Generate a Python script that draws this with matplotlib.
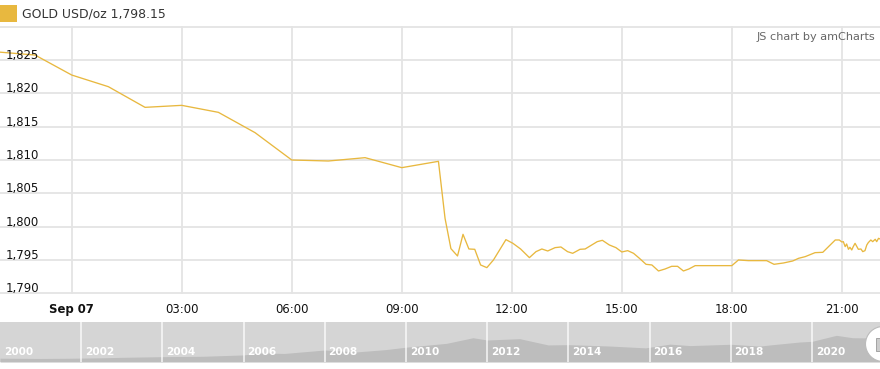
import matplotlib
matplotlib.use("Agg")
import matplotlib.pyplot as plt
from matplotlib.patches import Rectangle, Ellipse

# ---- data: hours relative to Sep 07 00:00, gold price USD/oz ----
hours = [-2.0, -1.0, 0.0, 1.0, 2.0, 3.0, 4.0, 5.0, 6.0, 7.0, 8.0, 9.0, 10.0,
         10.18, 10.34, 10.52, 10.67, 10.83, 10.99, 11.15, 11.32, 11.50, 11.84,
         12.03, 12.24, 12.48, 12.66, 12.82, 12.98, 13.18, 13.34, 13.52, 13.66,
         13.86, 14.00, 14.18, 14.33, 14.47, 14.66, 14.84, 15.00, 15.16, 15.32,
         15.48, 15.66, 15.82, 16.00, 16.18, 16.36, 16.52, 16.68, 16.83, 17.00,
         18.00, 18.18, 18.45, 18.95, 19.15, 19.41, 19.66, 19.82, 20.00, 20.27,
         20.48, 20.82, 20.93, 21.00, 21.04, 21.09, 21.13, 21.18, 21.22, 21.27,
         21.31, 21.36, 21.41, 21.45, 21.52, 21.57, 21.63, 21.68, 21.72, 21.79,
         21.84, 21.91, 21.95, 22.00, 22.04]
prices = [1826.2, 1825.75, 1822.75, 1821.0, 1817.9, 1818.2, 1817.15, 1814.1,
          1810.0, 1809.85, 1810.35, 1808.85, 1809.8,
          1801.25, 1796.7, 1795.6, 1798.85, 1796.65, 1796.6, 1794.25, 1793.85,
          1795.0, 1798.05, 1797.5, 1796.65, 1795.35, 1796.25, 1796.65, 1796.35,
          1796.85, 1796.95, 1796.25, 1796.0, 1796.6, 1796.65, 1797.25, 1797.75,
          1797.95, 1797.25, 1796.85, 1796.2, 1796.4, 1796.0, 1795.25, 1794.35,
          1794.25, 1793.35, 1793.65, 1794.05, 1794.05, 1793.35, 1793.65, 1794.15,
          1794.15, 1795.0, 1794.9, 1794.9, 1794.35, 1794.55, 1794.85, 1795.25,
          1795.5, 1796.1, 1796.15, 1798.0, 1798.0, 1797.7, 1797.75, 1797.0,
          1797.4, 1796.6, 1796.9, 1796.5, 1797.0, 1797.5, 1797.0, 1796.6,
          1796.65, 1796.25, 1796.4, 1797.25, 1797.6, 1798.0, 1797.75, 1798.1,
          1797.75, 1798.25, 1798.15]

x_ticks = [0, 3, 6, 9, 12, 15, 18, 21]
x_labels = ["Sep 07", "03:00", "06:00", "09:00", "12:00", "15:00", "18:00", "21:00"]
y_ticks = [1790, 1795, 1800, 1805, 1810, 1815, 1820, 1825, 1830]
y_labels = ["1,790", "1,795", "1,800", "1,805", "1,810", "1,815", "1,820", "1,825"]

legend_text = "GOLD USD/oz 1,798.15"
credit_text = "JS chart by amCharts"

# scrollbar overview (long-term gold price)
sb_years = [2000, 2001, 2001.7, 2002.5, 2003, 2004, 2005, 2006, 2006.4, 2007,
            2008, 2008.8, 2009.5, 2010, 2011, 2011.65, 2012, 2012.8, 2013.5,
            2014, 2015, 2015.9, 2016.5, 2017, 2018, 2018.7, 2019, 2019.7, 2020,
            2020.6, 2021, 2021.67]
sb_prices = [285, 265, 280, 315, 350, 400, 430, 530, 680, 640, 900, 760, 930,
             1110, 1400, 1820, 1650, 1750, 1280, 1300, 1200, 1060, 1340, 1230,
             1330, 1190, 1290, 1500, 1550, 2000, 1820, 1800]
sb_label_years = [2000, 2002, 2004, 2006, 2008, 2010, 2012, 2014, 2016, 2018, 2020]

GOLD = "#e8b83f"
GRID = "#e4e4e4"
W, H = 880, 369

fig = plt.figure(figsize=(W / 100, H / 100), dpi=100)
fig.patch.set_facecolor("white")

def fx(px):
    return px / W

def fy(py):
    return 1 - py / H

# ---- main chart ----
top, bottom = 26.7, 293.3
ax = fig.add_axes([0, fy(bottom), 1, (bottom - top) / H])
ax.set_facecolor("white")
ax.plot(hours, prices, color=GOLD, lw=0.95, solid_joinstyle="round", zorder=3)
ax.set_xlim(-1.955, 22.04)
ax.set_ylim(1790, 1830)
for s in ax.spines.values():
    s.set_visible(False)
ax.set_yticks(y_ticks)
ax.set_yticklabels([])
ax.set_xticks(x_ticks)
ax.set_xticklabels(x_labels, fontsize=8.4, color="#111111", family="DejaVu Sans")
ax.xaxis.get_ticklabels()[0].set_fontweight("bold")
ax.tick_params(axis="both", length=0)
ax.tick_params(axis="x", pad=7)
ax.tick_params(axis="y", pad=0)
ax.grid(True, color=GRID, lw=1.3)
for gl in ax.get_ygridlines() + ax.get_xgridlines():
    gl.set_clip_on(False)
ax.set_axisbelow(True)

for v, lab in zip(y_ticks, y_labels):
    ax.text(-1.955 + 6 / 36.67, v + 0.15, lab, fontsize=8.4, color="#111111",
            ha="left", va="baseline", zorder=4)

# legend
fig.add_artist(Rectangle((fx(0), fy(21.7)), fx(17), 16.7 / H, transform=fig.transFigure,
                         facecolor=GOLD, edgecolor="none"))
fig.text(fx(22), fy(14), legend_text, fontsize=8.9, color="#333333",
         ha="left", va="center")
fig.text(fx(875), fy(37), credit_text, fontsize=8.1, color="#666666",
         ha="right", va="center")

# ---- scrollbar ----
sb_top, sb_bot = 322, 362
sx = fig.add_axes([0, fy(sb_bot), 1, (sb_bot - sb_top) / H])
sx.set_facecolor("#d5d5d5")
sx.fill_between(sb_years, 0, sb_prices, color="#bdbdbd", lw=0)
sx.set_xlim(2000, 2000 + W / 40.6)
sx.set_ylim(0, 3000)
sx.set_xticks([])
sx.set_yticks([])
for s in sx.spines.values():
    s.set_visible(False)
for yr in sb_label_years:
    if yr > 2000:
        sx.axvline(yr, color="white", lw=1.2, alpha=0.8)
    sx.text(yr + 0.09, 0.25, str(yr), transform=sx.get_xaxis_transform(),
            fontsize=7.6, fontweight="bold", color="white", ha="left", va="center")

# grip
fig.add_artist(Ellipse((fx(883), fy(344)), 35 / W, 35 / H, transform=fig.transFigure,
                       facecolor="white", edgecolor="#bbbbbb", lw=0.8))
fig.add_artist(Rectangle((fx(876), fy(351)), 6 / W, 13 / H, transform=fig.transFigure,
                         facecolor="#cccccc", edgecolor="#999999", lw=0.6))

fig.savefig("out.png", dpi=100)
